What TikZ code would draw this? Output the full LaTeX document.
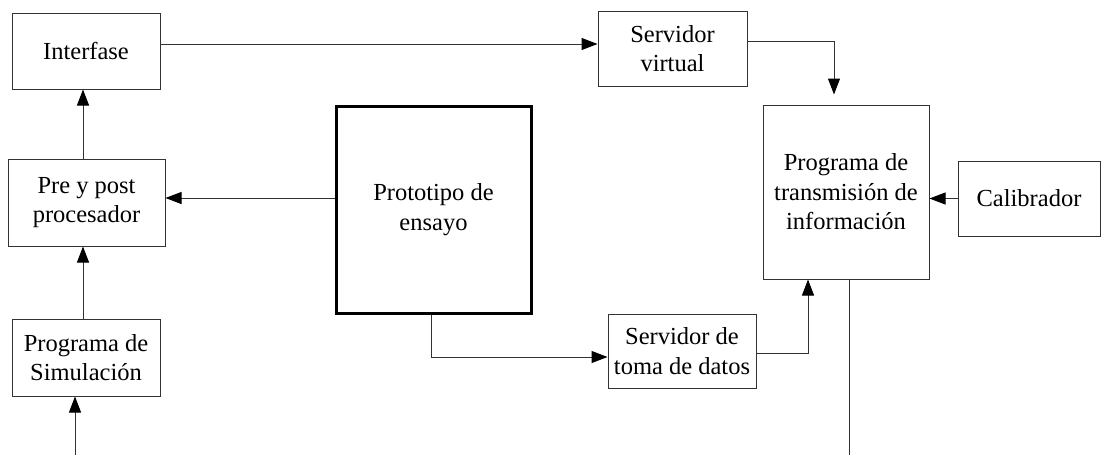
\documentclass[tikz,border=0pt]{standalone}
\usepackage{fontspec}
\setmainfont{Liberation Serif}
\usetikzlibrary{arrows.meta,calc}
\begin{document}
\begin{tikzpicture}[x=1pt,y=-1pt,
  box/.style={draw=black!80,line width=1pt,rectangle,inner sep=0pt,align=center,
    font=\fontsize{24.5}{29.5}\selectfont},
  thickbox/.style={box,draw=black,line width=3pt},
  arr/.style={draw=black!80,line width=1pt,-{Triangle[length=16pt,width=12pt,color=black]}},
  ln/.style={draw=black!80,line width=1pt}]
\useasboundingbox (0,0) rectangle (1101,455);
\node[box,minimum width=148pt,minimum height=76pt] (inter) at (86,51) {Interfase};
\node[box,minimum width=157pt,minimum height=87pt] (pre) at (86.5,202.5) {Pre y post\\procesador};
\node[box,minimum width=148pt,minimum height=77pt] (sim) at (86,357.5) {Programa de\\Simulación};
\node[thickbox,minimum width=195pt,minimum height=207pt] (proto) at (433.5,209.5) {Prototipo de\\ensayo};
\node[box,minimum width=149pt,minimum height=75pt] (svirt) at (672.5,48.5) {Servidor\\virtual};
\node[box,minimum width=166pt,minimum height=174pt] (prog) at (846,192) {Programa de\\transmisión de\\información};
\node[box,minimum width=142pt,minimum height=75pt] (calib) at (1029,198.5) {Calibrador};
\node[box,minimum width=148pt,minimum height=74pt] (stoma) at (682,351) {Servidor de\\toma de datos};
\coordinate (insim) at (75,455);
\coordinate (outprog) at (849,455);
\draw[arr] (pre.north -| 83,0) -- (inter.south -| 83,0);
\draw[arr] (sim.north -| 83,0) -- (pre.south -| 83,0);
\draw[arr] (insim) -- (insim |- sim.south);
\draw[arr] (proto.west |- 0,198) -- (pre.east |- 0,198);
\draw[arr] (inter.east |- 0,44) -- (svirt.west |- 0,44);
\draw[arr,shorten >=10pt] (svirt.east |- 0,41) -| (prog.north -| 834,0);
\draw[arr] (calib.west) -- (calib.west -| prog.east);
\draw[arr] (proto.south -| 431,0) |- (stoma.west |- 0,357);
\draw[arr] (stoma.east |- 0,353) -| (prog.south -| 808,0);
\draw[ln] (outprog |- prog.south) -- (outprog);
\end{tikzpicture}
\end{document}
